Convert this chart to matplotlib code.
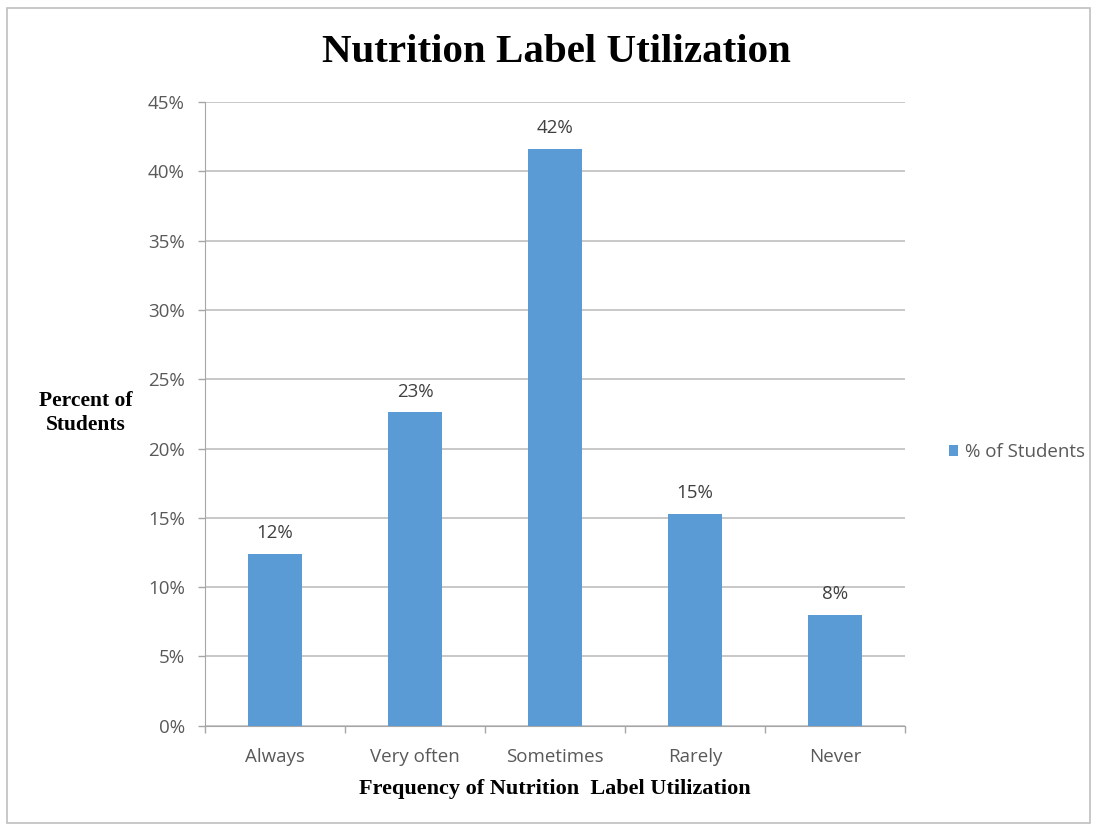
import matplotlib
matplotlib.use("Agg")
import matplotlib.pyplot as plt
from matplotlib.patches import Rectangle
from matplotlib.ticker import FuncFormatter, FixedLocator

categories = ["Always", "Very often", "Sometimes", "Rarely", "Never"]
percent_students = [12.4, 22.6, 41.6, 15.3, 8.0]
value_labels = ["12%", "23%", "42%", "15%", "8%"]
y_ticks = [0, 5, 10, 15, 20, 25, 30, 35, 40, 45]

BAR_COLOR = "#5B9BD5"
TICK_COLOR = "#595959"
GRID_COLOR = "#C8C8C8"
SERIF = ["Liberation Serif", "DejaVu Serif"]
SANS = ["Open Sans", "DejaVu Sans"]

W, H = 1096, 831
fig = plt.figure(figsize=(W / 100, H / 100), dpi=100)
fig.patch.set_facecolor("white")

# outer chart-area frame
fig.add_artist(Rectangle((7 / W, 8 / H), (1090 - 7) / W, (823 - 8) / H,
                         transform=fig.transFigure, fill=False,
                         edgecolor="#BFBFBF", linewidth=1.2))

ax = fig.add_axes([205 / W, 1 - 725.7 / H, 700 / W, (725.7 - 102) / H])
x = list(range(len(categories)))
bars = ax.bar(x, percent_students, width=0.39, color=BAR_COLOR, zorder=3,
              label="% of Students")

for xi, v, lab in zip(x, percent_students, value_labels):
    ax.text(xi, v + 1.15, lab, ha="center", va="baseline", fontsize=13.5,
            color="#404040", family=SANS)

ax.set_xlim(-0.5, len(categories) - 0.5)
ax.set_ylim(0, 45)
ax.set_yticks(y_ticks)
ax.yaxis.set_major_formatter(FuncFormatter(lambda v, p: f"{v:.0f}%"))
ax.grid(axis="y", color=GRID_COLOR, linewidth=1.4, zorder=0)
ax.set_axisbelow(True)

ax.set_xticks(x)
ax.set_xticklabels(categories)
ax.xaxis.set_minor_locator(FixedLocator([i - 0.5 for i in range(len(categories) + 1)]))
ax.tick_params(axis="x", which="major", length=0, pad=16, labelsize=13.5,
               labelcolor=TICK_COLOR)
ax.tick_params(axis="x", which="minor", length=5, color="#A6A6A6", width=1)
ax.tick_params(axis="y", length=5, color="#A6A6A6", width=1, pad=9.5,
               labelsize=13.5, labelcolor=TICK_COLOR)
for lab in ax.get_xticklabels() + ax.get_yticklabels():
    lab.set_family(SANS)

for side in ("top", "right"):
    ax.spines[side].set_visible(False)
ax.spines["left"].set_color("#A6A6A6")
ax.spines["bottom"].set_color("#A6A6A6")

fig.text(556 / W, 1 - 53 / H, "Nutrition Label Utilization", ha="center",
         va="center", fontsize=29.5, fontweight="bold", family=SERIF)
fig.text(86 / W, 1 - 413 / H, "Percent of\nStudents", ha="center", va="center",
         multialignment="center", fontsize=15.5, fontweight="bold",
         family=SERIF, linespacing=1.3)
fig.text(555 / W, 1 - 789 / H, "Frequency of Nutrition  Label Utilization",
         ha="center", va="center", fontsize=16, fontweight="bold", family=SERIF)

fig.legend(handles=[bars], loc="center left",
           bbox_to_anchor=(932 / W, 1 - 452 / H), frameon=False,
           prop={"family": SANS, "size": 13.5}, labelcolor=TICK_COLOR,
           handlelength=0.5, handleheight=0.5, handletextpad=0.35)

fig.savefig("out.png", dpi=100)
